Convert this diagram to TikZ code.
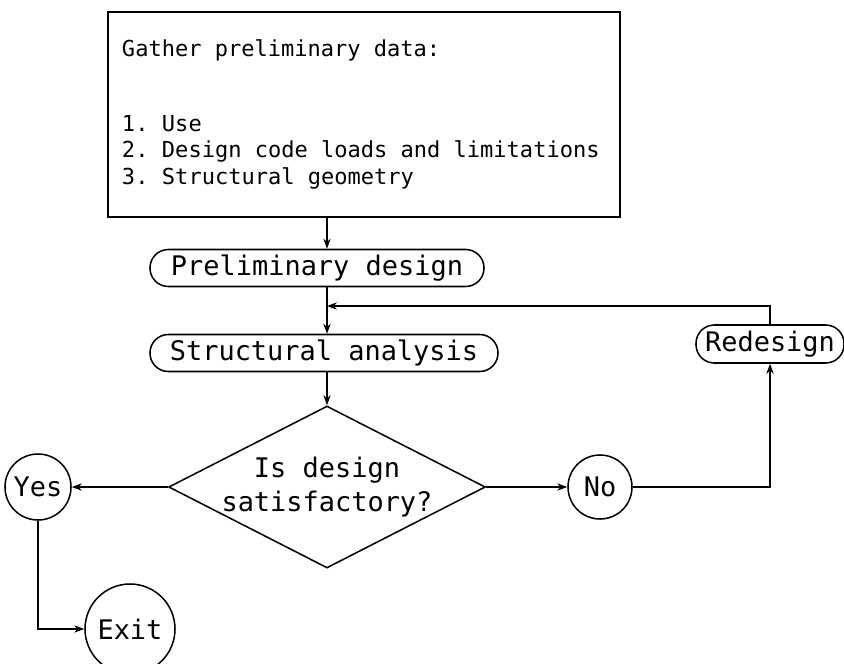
\documentclass[tikz,border=0pt]{standalone}
\usepackage{fontspec}
\usepackage{tikz}
\usetikzlibrary{arrows.meta,
    positioning,
    shapes.geometric}
\newfontfamily\typefont{DejaVu Sans Mono}

\begin{document}
\begin{tikzpicture}[x=0.03cm,y=-0.03cm,
    every node/.style={font=\typefont\fontsize{23}{26}\selectfont},
    pill/.style={draw,line width=1.3pt,rounded corners=0.55cm,inner sep=0pt,minimum height=1.11cm},
    ring/.style={draw,circle,line width=1.3pt,inner sep=0pt},
    flow/.style={line width=1.1pt,-{Stealth[length=3mm,width=2.2mm]}}]
    \useasboundingbox (0,0) rectangle (844,663);
    \coordinate (spine) at (327,0);
    \node[draw,line width=1.6pt,minimum width=15.36cm,minimum height=6.15cm,
          text width=14.52cm,inner xsep=0.42cm,align=left,
          font=\typefont\fontsize{18.8}{22.6}\selectfont] (data) at (364,114.5)
        {\spaceskip=0pt\xspaceskip=0pt\relax
         Gather preliminary data:\\[41pt]
         \makebox[1.2cm][l]{1.}Use\\
         \makebox[1.2cm][l]{2.}Design code loads and limitations\\
         \makebox[1.2cm][l]{3.}Structural geometry};
    \node[pill,minimum width=10.02cm] (prelim) at (317,268) {Preliminary design};
    \node[pill,minimum width=10.44cm] (analysis) at (324,353) {Structural analysis};
    \node[pill,minimum width=4.44cm,minimum height=1.14cm] (redesign) at (770,344) {Redesign};
    \node[draw,diamond,aspect=2,inner sep=-8pt,line width=1.3pt,
          minimum width=9.5cm,minimum height=4.86cm,align=center] (decide) at (327,487)
        {Is design\\[3pt]satisfactory?};
    \node[ring,minimum size=1.98cm] (yes) at (38,487) {Yes};
    \node[ring,minimum size=1.92cm] (no) at (600,487) {No};
    \node[ring,minimum size=2.7cm] (exit) at (130,629) {Exit};
    \coordinate (merge) at (spine |- 0,306);
    \draw[flow] (data.south -| spine) -- (prelim.north -| spine);
    \draw[flow] (prelim.south -| spine) -- (analysis.north -| spine);
    \draw[flow] (redesign.north) |- (merge);
    \draw[flow] (analysis.south -| spine) -- (decide.north);
    \draw[flow] (decide.west) -- (yes.east);
    \draw[flow] (decide.east) -- (no.west);
    \draw[flow] (no.east) -| (redesign.south);
    \draw[flow] (yes.south) |- (exit.west);
\end{tikzpicture}
\end{document}
